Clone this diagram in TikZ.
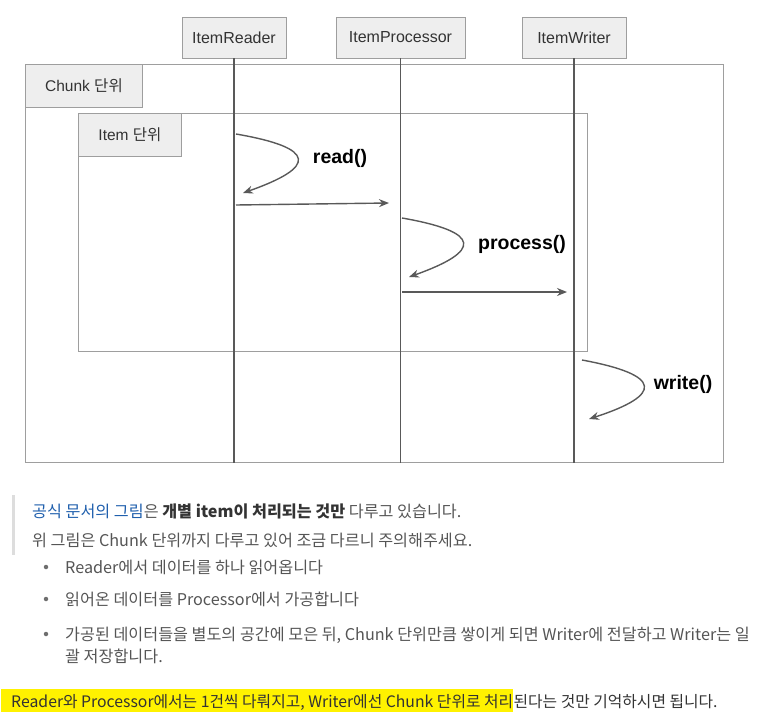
\documentclass[tikz,border=0pt]{standalone}
\usepackage{fontspec}
\setmainfont{Liberation Sans}
\newfontfamily\kr{Noto Sans CJK KR}
\usetikzlibrary{arrows.meta}
\definecolor{boxfill}{HTML}{EEEEEE}
\definecolor{boxline}{HTML}{9E9E9E}
\definecolor{lifeline}{HTML}{595959}
\definecolor{bodytext}{HTML}{555555}
\definecolor{darktext}{HTML}{333333}
\definecolor{linktext}{HTML}{1F5FAD}
\definecolor{hlyellow}{HTML}{FFF200}
\definecolor{quotebar}{HTML}{DDDDDD}
\begin{document}
\begin{tikzpicture}[x=1pt,y=-1pt,
  actor/.style={draw=boxline,fill=boxfill,line width=0.9pt,minimum height=41pt,inner sep=0pt,font=\fontsize{16}{19}\selectfont,text=darktext},
  tagbox/.style={draw=boxline,fill=boxfill,line width=0.9pt,minimum height=43pt,inner sep=0pt,font=\fontsize{15.5}{19}\selectfont,text=darktext},
  frame/.style={draw=boxline,line width=0.9pt,inner sep=0pt},
  life/.style={draw=lifeline,line width=1.2pt},
  msg/.style={draw=lifeline,line width=1.4pt,-{Stealth[length=10pt,width=8pt]}},
  callname/.style={font=\fontsize{19.5}{23}\selectfont\bfseries,text=black},
  txt/.style={anchor=base west,inner sep=0pt,text=bodytext,font=\kr\fontsize{16.2}{19}\selectfont},
  hltxt/.style={anchor=base west,inner sep=0pt,text=darktext,font=\kr\fontsize{15.8}{19}\selectfont},
  bullet/.style={circle,fill=bodytext!85,inner sep=0pt,minimum size=4.5pt}]
\useasboundingbox (0,0) rectangle (771,717);

% frames
\node[frame,minimum width=698pt,minimum height=398pt,anchor=north west] (chunk) at (25,64) {};
\node[frame,minimum width=509pt,minimum height=238pt,anchor=north west] (item) at (78,113) {};
\node[tagbox,minimum width=117pt,anchor=north west] (chunktag) at (25,64) {Chunk {\kr 단위}};
\node[tagbox,minimum width=103pt,anchor=north west] (itemtag) at (78,113) {Item {\kr 단위}};

% actors
\node[actor,minimum width=104pt] (reader) at (234,37.5) {ItemReader};
\node[actor,minimum width=129pt] (proc) at (400.5,37.5) {ItemProcessor};
\node[actor,minimum width=104pt] (writer) at (574,37.5) {ItemWriter};

% lifelines
\draw[life] (reader.south) -- (reader.south |- chunk.south);
\draw[life] (proc.south) -- (proc.south |- chunk.south);
\draw[life] (writer.south) -- (writer.south |- chunk.south);

% read()
\coordinate (r1) at (236,134);
\coordinate (r2) at (243,193);
\draw[msg] (r1) .. controls (317,148) and (317,167) .. (r2);
\node[callname] (readlbl) at (340,158) {read()};
\coordinate (m1) at (236,205);
\coordinate (m2) at (389,203);
\draw[msg] (m1) -- (m2);

% process()
\coordinate (p1) at (402,218);
\coordinate (p2) at (409,277);
\draw[msg] (p1) .. controls (482,232) and (482,251) .. (p2);
\node[callname] (proclbl) at (522,244) {process()};
\coordinate (n1) at (402,292);
\coordinate (n2) at (567,292);
\draw[msg] (n1) -- (n2);

% write()
\coordinate (w1) at (582,360);
\coordinate (w2) at (589,419);
\draw[msg] (w1) .. controls (663,375) and (663,395) .. (w2);
\node[callname] (writelbl) at (683,384) {write()};

% text block
\fill[quotebar] (12,495) rectangle (15,555);
\node[txt] (q1) at (32,517) {{\color{linktext}공식 문서의 그림}은 {\bfseries\color{darktext}개별 item이 처리되는 것만} 다루고 있습니다.};
\node[txt] (q2) at (32,546) {위 그림은 Chunk 단위까지 다루고 있어 조금 다르니 주의해주세요.};
\node[bullet] (b1) at (46,567) {};
\node[txt] (l1) at (65,573) {Reader에서 데이터를 하나 읽어옵니다};
\node[bullet] (b2) at (46,599) {};
\node[txt] (l2) at (65,605) {읽어온 데이터를 Processor에서 가공합니다};
\node[bullet] (b3) at (46,634) {};
\node[txt] (l3) at (65,640) {가공된 데이터들을 별도의 공간에 모은 뒤, Chunk 단위만큼 쌓이게 되면 Writer에 전달하고 Writer는 일};
\node[txt] (l3b) at (65,662) {괄 저장합니다.};
\node[hltxt,fill=hlyellow,text height=18pt,text depth=5pt] (hl) at (1,707) {\hspace{10pt}Reader와 Processor에서는 1건씩 다뤄지고, Writer에선 Chunk 단위로 처리};
\node[hltxt] (rest) at (hl.base east) {된다는 것만 기억하시면 됩니다.};
\end{tikzpicture}
\end{document}
